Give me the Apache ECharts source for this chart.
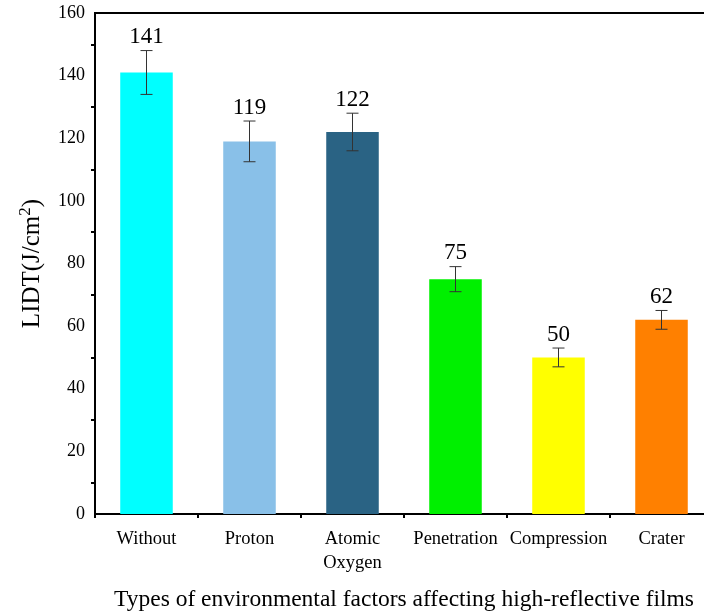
<!DOCTYPE html>
<html>
<head>
<meta charset="utf-8">
<script src="https://cdn.jsdelivr.net/npm/echarts@6/dist/echarts.min.js"></script>
<style>
  html, body { margin: 0; padding: 0; background: #fff; }
  #main { width: 704px; height: 616px; }
</style>
</head>
<body>
<div id="main"></div>
<script>
var categories = ['Without', 'Proton', 'Atomic\nOxygen', 'Penetration', 'Compression', 'Crater']
var lidt = [141, 119, 122, 75, 50, 62]
var errors = [7, 6.5, 6, 4, 3, 3]
var barColors = ['#00FFFF', '#89C0E8', '#2A6384', '#00F000', '#FFFF00', '#FF8000']

var serif = 'Liberation Serif'
var myChart = echarts.init(document.getElementById('main'));

// bar data with per-bar colours
var barData = lidt.map(function (v, i) {
    return { value: v, itemStyle: { color: barColors[i] } }
})
// error bar data: [index, low, high, value]
var errData = lidt.map(function (v, i) {
    return [i, v - errors[i], v + errors[i], v]
})

option = {
    animation: false,
    grid: {
        left: 95,
        top: 13,
        width: 618,
        height: 501,
        outerBoundsMode: 'none',
        containLabel: false,
        show: true,
        borderColor: '#000',
        borderWidth: 2
    },
    xAxis: [{
        type: 'category',
        data: categories,
        name: 'Types of environmental factors affecting high-reflective films',
        nameLocation: 'middle',
        nameGap: 74,
        nameTextStyle: { fontFamily: serif, fontSize: 23.5, color: '#000' },
        axisLine: { lineStyle: { color: '#000', width: 2 } },
        axisTick: { alignWithLabel: true, length: 7, lineStyle: { width: 2, color: '#000' } },
        axisLabel: { interval: 0, fontFamily: serif, fontSize: 18.5, color: '#000', margin: 13, lineHeight: 24 }
    }, {
        // short ticks on category boundaries
        type: 'category',
        data: categories,
        position: 'bottom',
        axisLine: { show: true, lineStyle: { opacity: 0 } },
        axisTick: { show: true, interval: 0, length: 4, lineStyle: { width: 2, color: '#000' } },
        axisLabel: { show: false }
    }],
    yAxis: {
        type: 'value',
        min: 0,
        max: 160,
        interval: 20,
        name: '{n|LIDT(J/cm}{s|2}{n|)}',
        nameLocation: 'middle',
        nameGap: 47,
        nameRotate: 90,
        nameTextStyle: {
            rich: {
                n: { fontFamily: serif, fontSize: 25, color: '#000' },
                s: { fontFamily: serif, fontSize: 17, color: '#000', padding: [0, 0, 14, 0] }
            }
        },
        splitLine: { show: false },
        axisLine: { show: true, lineStyle: { color: '#000', width: 2 } },
        axisTick: { length: 6, lineStyle: { width: 2, color: '#000' } },
        minorTick: { show: true, splitNumber: 2, length: 4, lineStyle: { width: 2, color: '#000' } },
        axisLabel: { fontFamily: serif, fontSize: 18, color: '#000', margin: 10 }
    },
    series: [{
        name: 'LIDT',
        type: 'bar',
        barWidth: '51%',
        data: barData
    }, {
        name: 'error',
        type: 'custom',
        data: errData,
        z: 10,
        renderItem: function (params, api) {
            var i = api.value(0)
            var lo = api.coord([i, api.value(1)])
            var hi = api.coord([i, api.value(2)])
            var half = 6
            return {
                type: 'group',
                children: [{
                    type: 'line',
                    shape: { x1: hi[0], y1: hi[1], x2: lo[0], y2: lo[1] },
                    style: { stroke: '#333', lineWidth: 1 }
                }, {
                    type: 'line',
                    shape: { x1: hi[0] - half, y1: hi[1], x2: hi[0] + half, y2: hi[1] },
                    style: { stroke: '#333', lineWidth: 1 }
                }, {
                    type: 'line',
                    shape: { x1: lo[0] - half, y1: lo[1], x2: lo[0] + half, y2: lo[1] },
                    style: { stroke: '#333', lineWidth: 1 }
                }, {
                    type: 'text',
                    x: hi[0],
                    y: hi[1] - 2,
                    style: {
                        text: String(api.value(3)),
                        fontFamily: serif,
                        fontSize: 23,
                        fill: '#000',
                        align: 'center',
                        verticalAlign: 'bottom'
                    }
                }]
            }
        }
    }]
};

myChart.setOption(option);
</script>
</body>
</html>
